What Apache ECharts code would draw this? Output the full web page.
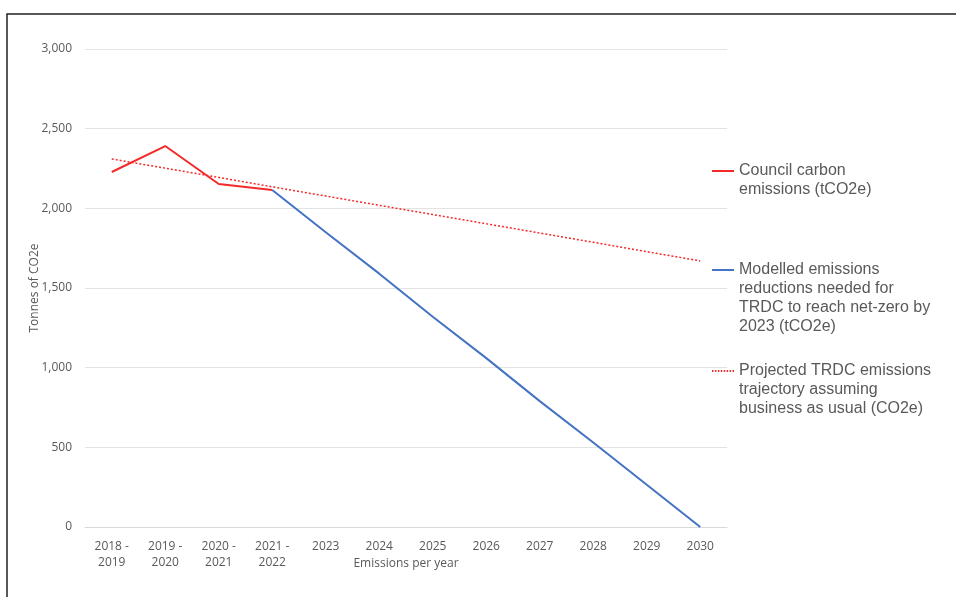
<!DOCTYPE html>
<html>
<head>
<meta charset="utf-8">
<script src="https://cdn.jsdelivr.net/npm/echarts@6/dist/echarts.min.js"></script>
<style>
html,body{margin:0;padding:0;background:#fff;}
#c{width:956px;height:597px;}
</style>
</head>
<body>
<div id="c"></div>
<script>
var categories = ['2018 -\n2019','2019 -\n2020','2020 -\n2021','2021 -\n2022','2023','2024','2025','2026','2027','2028','2029','2030'];
var councilEmissions = [2228, 2391, 2153, 2115, null, null, null, null, null, null, null, null];
var modelledReductions = [null, null, null, 2115, 1850, 1590, 1320, 1060, 790, 530, 265, 0];
var projectedBAU = [2310, 2252, 2194, 2135, 2077, 2019, 1961, 1903, 1845, 1787, 1728, 1670];
var seriesNames = ['Council carbon\nemissions (tCO2e)', 'Modelled emissions\nreductions needed for\nTRDC to reach net-zero by\n2023 (tCO2e)', 'Projected TRDC emissions\ntrajectory assuming\nbusiness as usual (CO2e)'];
var yTicks = {min: 0, max: 3000, interval: 500};

var chart = echarts.init(document.getElementById('c'));
var font = '"Open Sans", "Noto Sans", sans-serif';
var legendFont = '"Liberation Sans", Helvetica, Arial, sans-serif';
var lh = 18.7;
var solidIcon = 'path://M0,0H22V2H0Z';
var dottedIcon = 'path://M0,0h1.5v2h-1.5z M3,0h1.5v2h-1.5z M6,0h1.5v2h-1.5z M9,0h1.5v2h-1.5z M12,0h1.5v2h-1.5z M15,0h1.5v2h-1.5z M18,0h1.5v2h-1.5z M21,0h1.5v2h-1.5z';
function legendCfg(name, firstLineY, icon){
  var lines = name.split('\n').length;
  // pad with leading blank lines so the icon sits beside the first text line
  var top = firstLineY - (lines - 1) * lh - lh / 2;
  return {
    left: 712, top: top, orient: 'vertical',
    data: [{name: name, icon: icon}], itemWidth: 22, itemHeight: 2, itemGap: 0, padding: 0,
    selectedMode: false,
    formatter: function(n){ return new Array(lines).join('\n') + n; },
    textStyle: {fontFamily: legendFont, fontSize: 16, color: '#595959', lineHeight: lh}
  };
}
chart.setOption({
  animation: false,
  backgroundColor: '#fff',
  graphic: [{type: 'rect', shape: {x: 7, y: 14, width: 1000, height: 700},
    style: {fill: 'none', stroke: '#222', lineWidth: 1.5}, silent: true}],
  grid: {left: 85, right: 229, top: 49, bottom: 70},
  legend: [
    legendCfg(seriesNames[0], 171, solidIcon),
    legendCfg(seriesNames[1], 270, solidIcon),
    legendCfg(seriesNames[2], 371, dottedIcon)
  ],
  xAxis: {
    type: 'category', data: categories, boundaryGap: true,
    axisLine: {show: true, lineStyle: {color: '#d9d9d9'}},
    axisTick: {show: false},
    axisLabel: {fontFamily: font, fontSize: 12, color: '#595959', lineHeight: 16, margin: 12, interval: 0},
    name: 'Emissions per year', nameLocation: 'middle', nameGap: 31, nameMoveOverlap: false,
    nameTextStyle: {fontFamily: font, fontSize: 12, color: '#595959'}
  },
  yAxis: {
    type: 'value', min: yTicks.min, max: yTicks.max, interval: yTicks.interval,
    axisLine: {show: false}, axisTick: {show: false},
    splitLine: {lineStyle: {color: '#e3e3e3'}},
    axisLabel: {fontFamily: font, fontSize: 12, color: '#595959', margin: 13,
      formatter: function(v){ return v.toLocaleString('en-US'); }},
    name: 'Tonnes of CO2e', nameLocation: 'middle', nameGap: 44, nameMoveOverlap: false,
    nameTextStyle: {fontFamily: font, fontSize: 12, color: '#595959'}
  },
  series: [
    {name: seriesNames[0], type: 'line', data: councilEmissions, symbol: 'none',
      lineStyle: {color: '#f42a2a', width: 2}, itemStyle: {color: '#f42a2a'}},
    {name: seriesNames[1], type: 'line', data: modelledReductions, symbol: 'none',
      lineStyle: {color: '#4472c4', width: 2}, itemStyle: {color: '#4472c4'}},
    {name: seriesNames[2], type: 'line', data: projectedBAU, symbol: 'none',
      lineStyle: {color: '#f42a2a', width: 1.5, type: [2, 2]}, itemStyle: {color: '#f42a2a'}}
  ]
});
</script>
</body>
</html>
